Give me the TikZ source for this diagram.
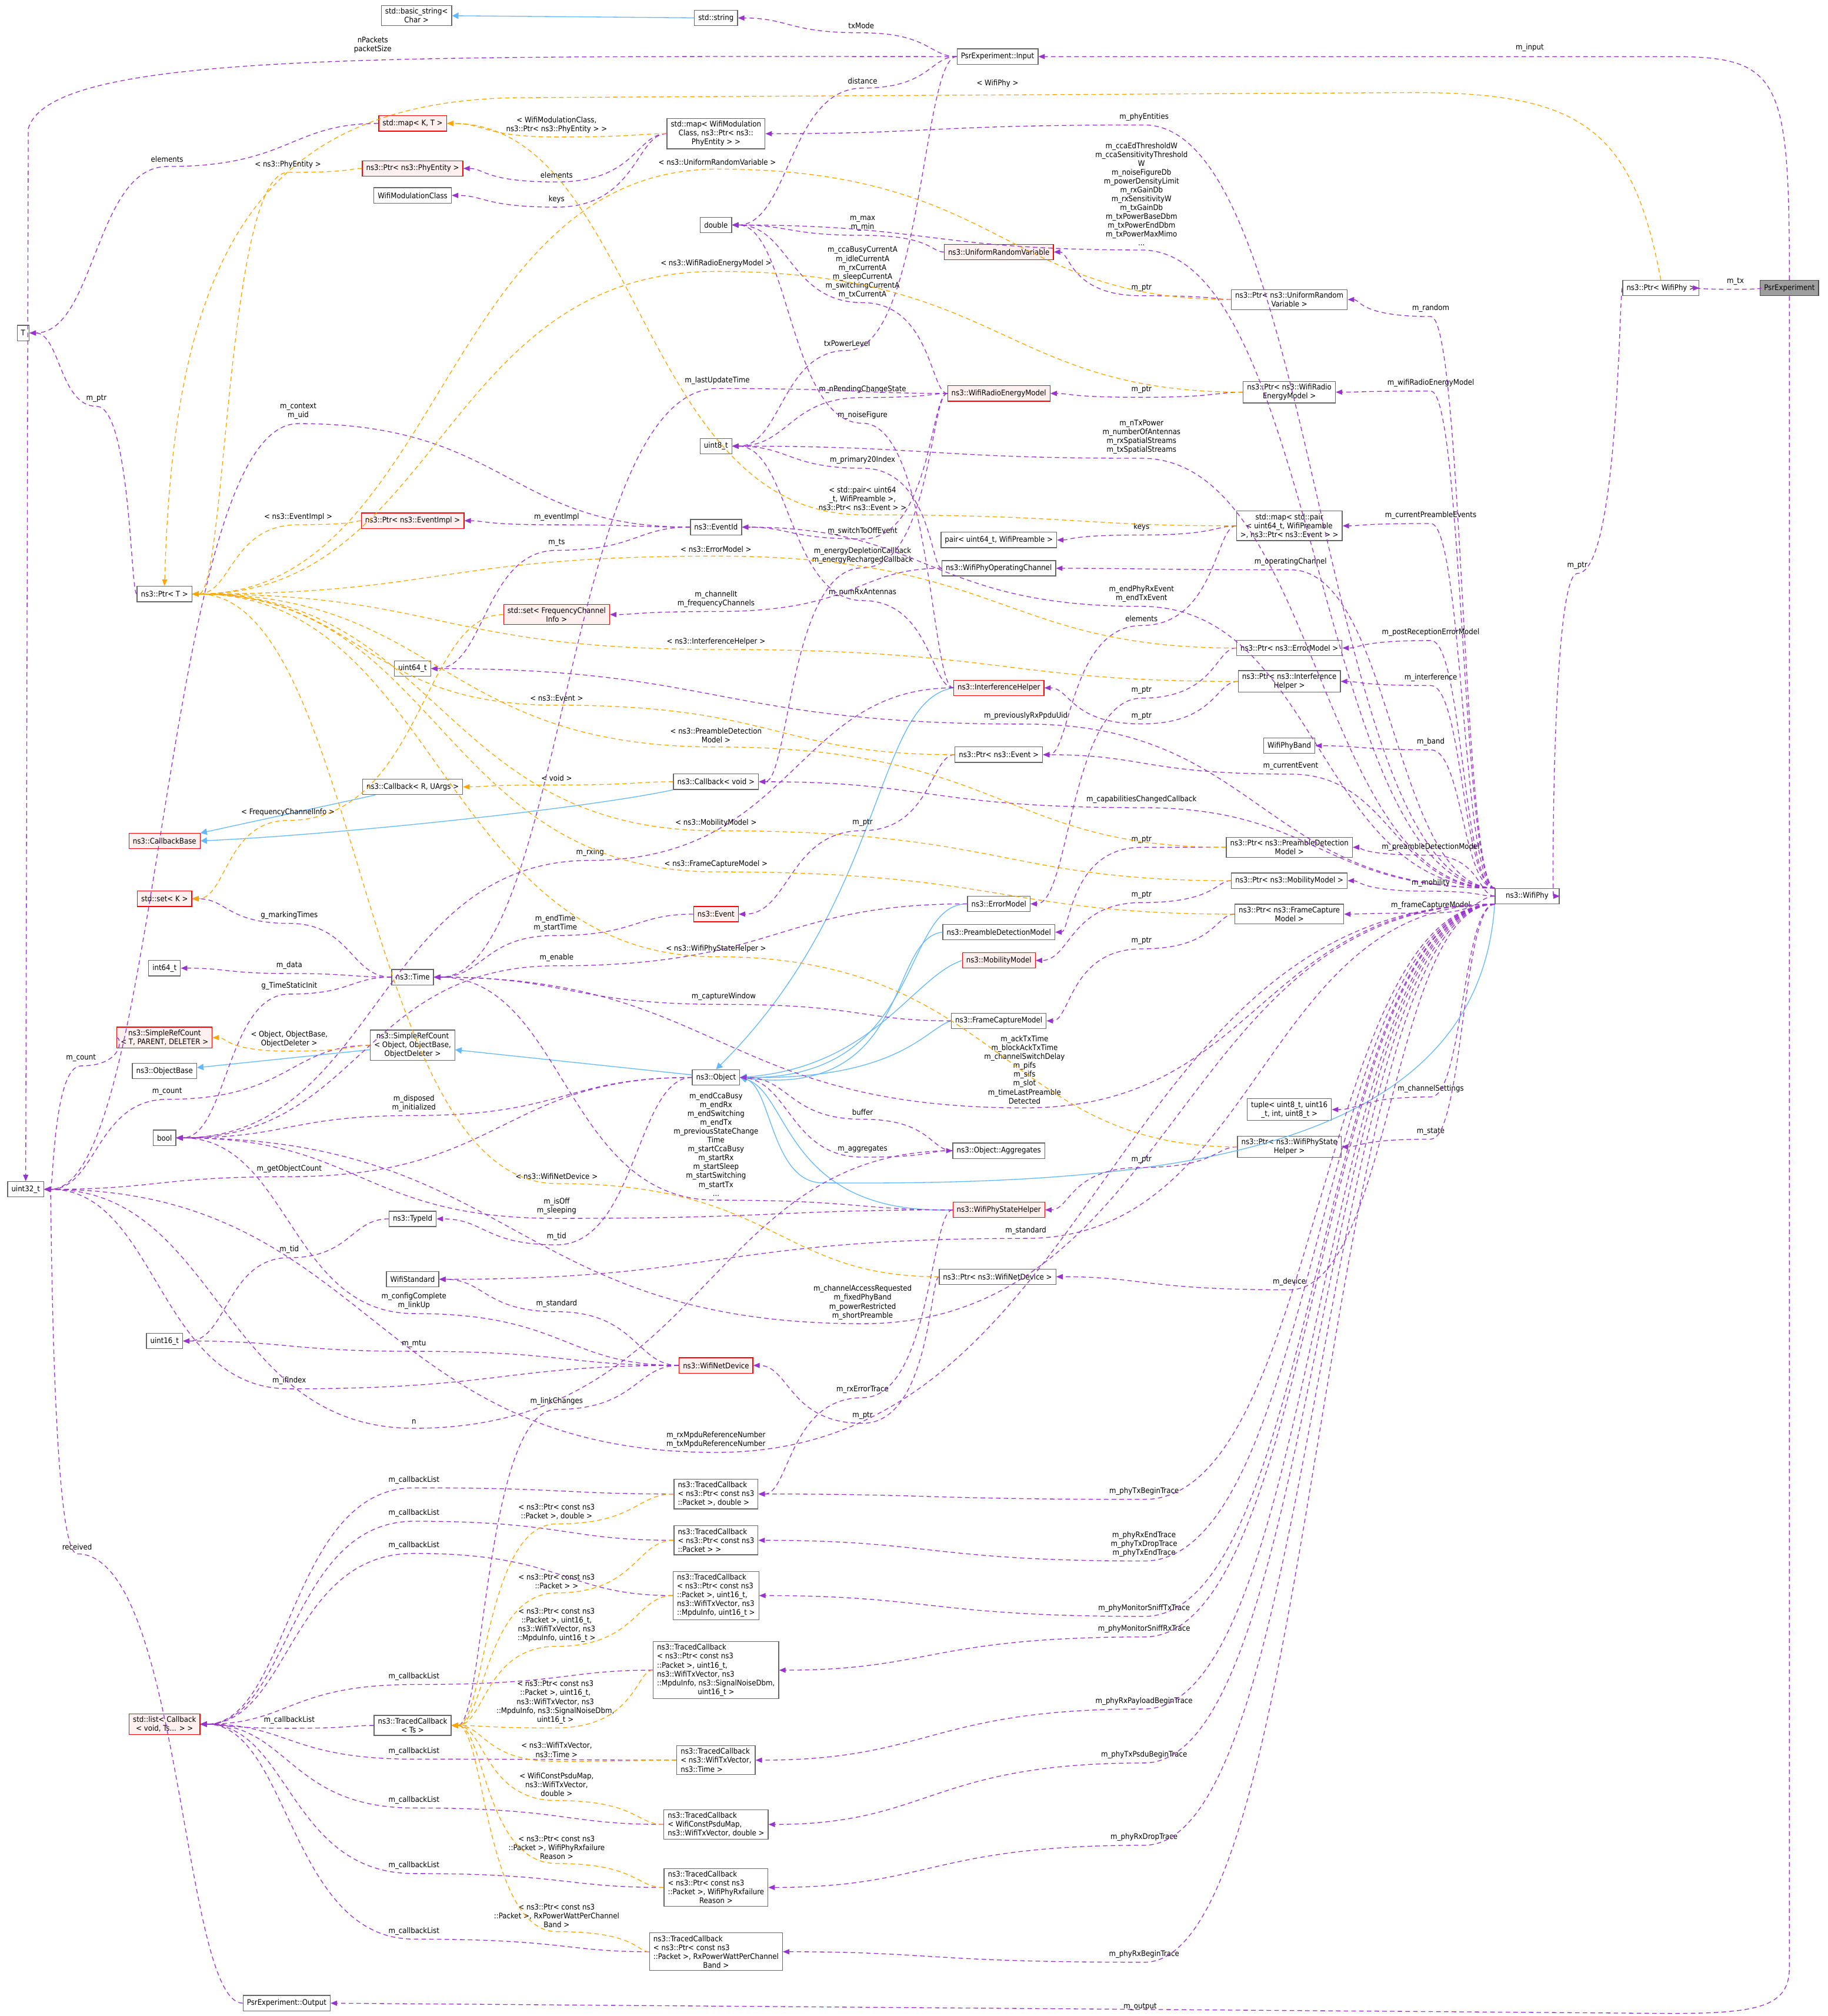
\documentclass[tikz,border=0pt]{standalone}
\usepackage{fontspec}
\setmainfont{DejaVu Sans Condensed}
\usetikzlibrary{arrows.meta,calc}
\definecolor{pc}{HTML}{9A32CD}
\definecolor{oc}{HTML}{FFA500}
\definecolor{bc}{HTML}{63B8FF}
\definecolor{nb}{HTML}{666666}
\newcount\lkc
\newcommand\edg[5][pr]{%
 \global\advance\lkc by 1
 \node[lbl] (L\the\lkc) at (#4) {#5};
 \coordinate (P\the\lkc) at ($(L\the\lkc.south)+(0,2.5)$);
 \coordinate (Ma\the\lkc) at ($(#2)!0.5!(P\the\lkc)$);
 \coordinate (Mb\the\lkc) at ($(P\the\lkc)!0.5!(#3)$);
 \draw[#1] (#2) .. controls (Ma\the\lkc |- #2) and (Ma\the\lkc |- P\the\lkc) .. (P\the\lkc)
   .. controls (Mb\the\lkc |- P\the\lkc) and (Mb\the\lkc |- #3) .. (#3);
}
\begin{document}
\begin{tikzpicture}[x=1pt,y=-1pt,
 font=\fontsize{6}{6.9}\selectfont,
 bx/.style={draw=nb,fill=white,line width=0.6pt,inner xsep=3pt,inner ysep=2pt,minimum height=12pt,align=center},
 rbox/.style={bx,draw=red,fill=red!6},
 gbox/.style={bx,fill=black!38,draw=black!70},
 tbox/.style={bx,align=left},
 lbl/.style={inner sep=0.5pt,align=center},
 pr/.style={draw=pc,line width=0.6pt,dash pattern=on 3.5pt off 2.5pt,-{Triangle[length=5pt,width=4pt]}},
 tm/.style={draw=oc,line width=0.6pt,dash pattern=on 3.5pt off 2.5pt,-{Triangle[length=5pt,width=4pt]}},
 inh/.style={draw=bc,line width=0.6pt,-{Triangle[length=5pt,width=5pt]}}]
\useasboundingbox (0,0) rectangle (1422,1568);
% nodes
\node[bx] (basicstring) at (324,12) {std::basic\_string\textless\\Char \textgreater};
\node[bx] (stdstring) at (557,14) {std::string};
\node[bx] (input) at (776,44) {PsrExperiment::Input};
\node[rbox] (mapKT) at (321,96) {std::map\textless{} K, T \textgreater};
\node[bx] (mapWifi) at (557,104) {std::map\textless{} WifiModulation\\Class, ns3::Ptr\textless{} ns3::\\PhyEntity \textgreater{} \textgreater};
\node[rbox] (ptrPhyEntity) at (321,131) {ns3::Ptr\textless{} ns3::PhyEntity \textgreater};
\node[bx] (wifiModClass) at (321,152) {WifiModulationClass};
\node[bx] (double) at (557,175) {double};
\node[bx] (T) at (18,259) {T};
\node[rbox] (urv) at (777,196) {ns3::UniformRandomVariable};
\node[bx] (ptrURV) at (1003,233) {ns3::Ptr\textless{} ns3::UniformRandom\\Variable \textgreater};
\node[bx] (ptrWifiPhy) at (1292,224) {ns3::Ptr\textless{} WifiPhy \textgreater};
\node[gbox] (psrexp) at (1392,224) {PsrExperiment};
\node[rbox] (wrem) at (777,306) {ns3::WifiRadioEnergyModel};
\node[bx] (ptrWrem) at (1003,305) {ns3::Ptr\textless{} ns3::WifiRadio\\EnergyModel \textgreater};
\node[bx] (uint8) at (557,347) {uint8\_t};
\node[rbox] (ptrEventImpl) at (321,405) {ns3::Ptr\textless{} ns3::EventImpl \textgreater};
\node[bx] (eventid) at (557,410) {ns3::EventId};
\node[bx] (mapPair) at (1003,409) {std::map\textless{} std::pair\\\textless{} uint64\_t, WifiPreamble\\\textgreater, ns3::Ptr\textless{} ns3::Event \textgreater{} \textgreater};
\node[bx] (pairU) at (777,420) {pair\textless{} uint64\_t, WifiPreamble \textgreater};
\node[bx] (opchan) at (777,442) {ns3::WifiPhyOperatingChannel};
\node[bx] (ptrT) at (128,462) {ns3::Ptr\textless{} T \textgreater};
\node[rbox] (setFreq) at (433,478) {std::set\textless{} FrequencyChannel\\Info \textgreater};
\node[bx] (ptrErrorModel) at (1003,504) {ns3::Ptr\textless{} ns3::ErrorModel \textgreater};
\node[bx] (uint64) at (321,520) {uint64\_t};
\node[bx] (ptrIH) at (1003,530) {ns3::Ptr\textless{} ns3::Interference\\Helper \textgreater};
\node[rbox] (ih) at (777,535) {ns3::InterferenceHelper};
\node[bx] (wifiband) at (1003,580) {WifiPhyBand};
\node[bx] (ptrEvent) at (777,587) {ns3::Ptr\textless{} ns3::Event \textgreater};
\node[bx] (callbackRU) at (321,612) {ns3::Callback\textless{} R, UArgs \textgreater};
\node[bx] (callbackVoid) at (557,608) {ns3::Callback\textless{} void \textgreater};
\node[rbox] (callbackBase) at (128,654) {ns3::CallbackBase};
\node[bx] (ptrPDM) at (1003,659) {ns3::Ptr\textless{} ns3::PreambleDetection\\Model \textgreater};
\node[bx] (ptrMM) at (1003,685) {ns3::Ptr\textless{} ns3::MobilityModel \textgreater};
\node[bx,minimum width=50pt] (wifiphy) at (1188,697) {ns3::WifiPhy};
\node[rbox] (setK) at (128,699) {std::set\textless{} K \textgreater};
\node[bx] (errormodel) at (777,703) {ns3::ErrorModel};
\node[bx] (ptrFCM) at (1003,711) {ns3::Ptr\textless{} ns3::FrameCapture\\Model \textgreater};
\node[rbox] (event) at (557,711) {ns3::Event};
\node[bx] (pdm) at (777,725) {ns3::PreambleDetectionModel};
\node[rbox] (mm) at (777,747) {ns3::MobilityModel};
\node[bx] (int64) at (128,753) {int64\_t};
\node[bx] (time) at (321,760) {ns3::Time};
\node[bx] (fcm) at (777,794) {ns3::FrameCaptureModel};
\node[rbox] (srcT) at (128,807) {ns3::SimpleRefCount\\\textless{} T, PARENT, DELETER \textgreater};
\node[bx] (srcObj) at (321,813) {ns3::SimpleRefCount\\\textless{} Object, ObjectBase,\\ObjectDeleter \textgreater};
\node[bx] (objbase) at (128,833) {ns3::ObjectBase};
\node[bx] (object) at (557,838) {ns3::Object};
\node[bx] (bool) at (128,885) {bool};
\node[bx] (tuple) at (1003,863) {tuple\textless{} uint8\_t, uint16\\\_t, int, uint8\_t \textgreater};
\node[bx] (aggregates) at (777,895) {ns3::Object::Aggregates};
\node[bx] (ptrWPSH) at (1003,892) {ns3::Ptr\textless{} ns3::WifiPhyState\\Helper \textgreater};
\node[bx] (uint32) at (20,925) {uint32\_t};
\node[rbox] (wpsh) at (777,941) {ns3::WifiPhyStateHelper};
\node[bx] (typeid) at (321,948) {ns3::TypeId};
\node[bx] (wifistandard) at (321,995) {WifiStandard};
\node[bx] (ptrWND) at (776,993) {ns3::Ptr\textless{} ns3::WifiNetDevice \textgreater};
\node[bx] (uint16) at (128,1043) {uint16\_t};
\node[rbox] (wnd) at (557,1062) {ns3::WifiNetDevice};
\node[tbox] (tc1) at (557,1162) {ns3::TracedCallback\\\textless{} ns3::Ptr\textless{} const ns3\\::Packet \textgreater, double \textgreater};
\node[tbox] (tc2) at (557,1198) {ns3::TracedCallback\\\textless{} ns3::Ptr\textless{} const ns3\\::Packet \textgreater{} \textgreater};
\node[tbox] (tc3) at (557,1241) {ns3::TracedCallback\\\textless{} ns3::Ptr\textless{} const ns3\\::Packet \textgreater, uint16\_t,\\ns3::WifiTxVector, ns3\\::MpduInfo, uint16\_t \textgreater};
\node[tbox] (tc4) at (557,1299) {ns3::TracedCallback\\\textless{} ns3::Ptr\textless{} const ns3\\::Packet \textgreater, uint16\_t,\\ns3::WifiTxVector, ns3\\::MpduInfo, ns3::SignalNoiseDbm,\\\hfill uint16\_t \textgreater\hfill\null};
\node[rbox] (stdlist) at (128,1341) {std::list\textless{} Callback\\\textless{} void, Ts... \textgreater{} \textgreater};
\node[bx] (tcTs) at (321,1342) {ns3::TracedCallback\\\textless{} Ts \textgreater};
\node[tbox] (tc5) at (557,1369) {ns3::TracedCallback\\\textless{} ns3::WifiTxVector,\\ns3::Time \textgreater};
\node[tbox] (tc6) at (557,1419) {ns3::TracedCallback\\\textless{} WifiConstPsduMap,\\ns3::WifiTxVector, double \textgreater};
\node[tbox] (tc7) at (557,1468) {ns3::TracedCallback\\\textless{} ns3::Ptr\textless{} const ns3\\::Packet \textgreater, WifiPhyRxfailure\\\hfill Reason \textgreater\hfill\null};
\node[tbox] (tc8) at (557,1518) {ns3::TracedCallback\\\textless{} ns3::Ptr\textless{} const ns3\\::Packet \textgreater, RxPowerWattPerChannel\\\hfill Band \textgreater\hfill\null};
\node[bx] (output) at (223,1558) {PsrExperiment::Output};
% inheritance
\draw[inh] (stdstring) -- (basicstring);
\draw[inh] (callbackRU) -- (callbackBase);
\draw[inh] (callbackVoid.south west) .. controls (450,630) and (250,650) .. (callbackBase.east);
\draw[inh] (srcObj) -- (objbase);
\draw[inh] (object) -- (srcObj);
\draw[inh] (ih.west) .. controls (680,545) and (690,700) .. (object.north);
\draw[inh] (errormodel.west) .. controls (700,703) and (720,840) .. (object.east);
\draw[inh] (pdm.west) .. controls (690,730) and (710,855) .. (object.east);
\draw[inh] (mm.west) .. controls (710,760) and (680,830) .. (object.east);
\draw[inh] (fcm.west) .. controls (720,800) and (700,840) .. (object.east);
\draw[inh] (wpsh.west) .. controls (610,945) and (615,850) .. (object.east);
\draw[inh] (wifiphy.south west) .. controls (1150,900) and (900,922) .. (640,920) .. controls (600,920) and (600,845) .. (object.east);
% special long edges
\node[lbl] (Lnp) at (290,35) {nPackets\\packetSize};
\draw[pr] (input.west) .. controls (300,44) and (40,40) .. (22,100) -- (uint32.north);
\node[lbl] (Lin) at (1190,37) {m\_input};
\draw[pr] (psrexp.north) .. controls (1392,60) and (1385,44) .. (1300,44) -- (input.east);
\node[lbl] (Lout) at (887,1561) {m\_output};
\draw[pr] (psrexp.south) -- (1392,1530) .. controls (1392,1560) and (1370,1566) .. (1300,1566) -- (output.east);
\node[lbl] (Lwp) at (776,65) {\textless{} WifiPhy \textgreater};
\draw[tm] (ptrWifiPhy.north) .. controls (1270,100) and (1230,72) .. (1100,72) -- (400,76) .. controls (200,80) and (135,200) .. (ptrT.north);
% purple edges
\edg{input}{stdstring}{670,20}{txMode}
\edg{input}{double}{671,63}{distance}
\edg{input}{uint8}{659,267}{txPowerLevel}
\edg{psrexp}{ptrWifiPhy}{1350,219}{m\_tx}
\edg{ptrWifiPhy}{wifiphy}{1227,440}{m\_ptr}
\edg{mapKT}{T}{130,124}{elements}
\edg{mapWifi}{ptrPhyEntity}{433,136}{elements}
\edg{mapWifi}{wifiModClass}{433,155}{keys}
\edg{urv}{double}{671,174}{m\_max\\m\_min}
\edg{ptrURV}{urv}{888,224}{m\_ptr}
\edg{wrem}{double}{671,212}{m\_ccaBusyCurrentA\\m\_idleCurrentA\\m\_rxCurrentA\\m\_sleepCurrentA\\m\_switchingCurrentA\\m\_txCurrentA}
\edg{wrem}{uint8}{671,303}{m\_nPendingChangeState}
\edg{wrem}{time}{558,296}{m\_lastUpdateTime}
\edg{wrem}{callbackVoid}{671,432}{m\_energyDepletionCallback\\m\_energyRechargedCallback}
\edg{wrem}{eventid}{671,413}{m\_switchToOffEvent}
\edg{ptrWrem}{wrem}{888,303}{m\_ptr}
\edg{wifiphy.north west}{mapWifi}{890,91}{m\_phyEntities}
\edg{wifiphy.north west}{double}{888,151}{m\_ccaEdThresholdW\\m\_ccaSensitivityThreshold\\W\\m\_noiseFigureDb\\m\_powerDensityLimit\\m\_rxGainDb\\m\_rxSensitivityW\\m\_txGainDb\\m\_txPowerBaseDbm\\m\_txPowerEndDbm\\m\_txPowerMaxMimo\\...}
\edg{wifiphy.north west}{ptrURV}{1113,240}{m\_random}
\edg{wifiphy.north west}{ptrWrem}{1113,298}{m\_wifiRadioEnergyModel}
\edg{wifiphy.north west}{uint8}{888,340}{m\_nTxPower\\m\_numberOfAntennas\\m\_rxSpatialStreams\\m\_txSpatialStreams}
\edg{wifiphy.north west}{mapPair}{1113,401}{m\_currentPreambleEvents}
\edg{wifiphy.north west}{opchan}{1004,437}{m\_operatingChannel}
\edg{wifiphy.north west}{eventid}{888,462}{m\_endPhyRxEvent\\m\_endTxEvent}
\edg{wifiphy.north west}{ptrErrorModel}{1113,492}{m\_postReceptionErrorModel}
\edg{wifiphy.north west}{ptrIH}{1113,527}{m\_interference}
\edg{wifiphy.north west}{wifiband}{1113,577}{m\_band}
\edg{wifiphy.north west}{ptrEvent}{1004,596}{m\_currentEvent}
\edg{wifiphy.north west}{callbackVoid}{888,622}{m\_capabilitiesChangedCallback}
\edg{wifiphy}{ptrPDM}{1113,659}{m\_preambleDetectionModel}
\edg{wifiphy}{ptrMM}{1113,687}{m\_mobility}
\edg{wifiphy}{ptrFCM}{1113,704}{m\_frameCaptureModel}
\edg{wifiphy.north west}{uint64}{798,557}{m\_previouslyRxPpduUid}
\edg{wifiphy.south west}{time}{797,832}{m\_ackTxTime\\m\_blockAckTxTime\\m\_channelSwitchDelay\\m\_pifs\\m\_sifs\\m\_slot\\m\_timeLastPreamble\\Detected}
\edg{wifiphy.south west}{tuple}{1113,847}{m\_channelSettings}
\edg{wifiphy.south west}{ptrWPSH}{1113,880}{m\_state}
\edg{wifiphy.south west}{ptrWND}{1003,997}{m\_device}
\edg{wifiphy.south west}{wifistandard}{798,957}{m\_standard}
\edg{wifiphy.south west}{bool}{671,1013}{m\_channelAccessRequested\\m\_fixedPhyBand\\m\_powerRestricted\\m\_shortPreamble}
\edg{wifiphy.south west}{uint32}{557,1120}{m\_rxMpduReferenceNumber\\m\_txMpduReferenceNumber}
\edg{wifiphy.south west}{tc1}{890,1160}{m\_phyTxBeginTrace}
\edg{wifiphy.south west}{tc2}{890,1201}{m\_phyRxEndTrace\\m\_phyTxDropTrace\\m\_phyTxEndTrace}
\edg{wifiphy.south west}{tc3}{890,1251}{m\_phyMonitorSniffTxTrace}
\edg{wifiphy.south west}{tc4}{890,1267}{m\_phyMonitorSniffRxTrace}
\edg{wifiphy.south west}{tc5}{890,1323}{m\_phyRxPayloadBeginTrace}
\edg{wifiphy.south west}{tc6}{890,1365}{m\_phyTxPsduBeginTrace}
\edg{wifiphy.south west}{tc7}{890,1429}{m\_phyRxDropTrace}
\edg{wifiphy.south west}{tc8}{890,1520}{m\_phyRxBeginTrace}
\edg{mapPair}{pairU}{888,410}{keys}
\edg{mapPair}{ptrEvent}{888,481}{elements}
\edg{ptrErrorModel}{errormodel}{888,537}{m\_ptr}
\edg{ptrIH}{ih}{888,557}{m\_ptr}
\edg{ptrEvent}{event}{671,640}{m\_ptr}
\edg{ptrPDM}{pdm}{888,653}{m\_ptr}
\edg{ptrMM}{mm}{888,696}{m\_ptr}
\edg{ptrFCM}{fcm}{888,732}{m\_ptr}
\edg{ptrWPSH}{wpsh}{888,902}{m\_ptr}
\edg{ptrWND}{wnd}{671,1101}{m\_ptr}
\edg{ih}{double}{671,323}{m\_noiseFigure}
\edg{opchan}{uint8}{671,358}{m\_primary20Index}
\edg{ih}{uint8}{671,461}{m\_numRxAntennas}
\edg{opchan}{setFreq}{557,466}{m\_channelIt\\m\_frequencyChannels}
\edg{ih}{bool}{459,663}{m\_rxing}
\edg{event}{time}{432,718}{m\_endTime\\m\_startTime}
\edg{time}{int64}{225,751}{m\_data}
\edg{time}{setK}{225,712}{g\_markingTimes}
\edg{time}{bool}{225,767}{g\_TimeStaticInit}
\edg{eventid}{ptrEventImpl}{433,402}{m\_eventImpl}
\edg{eventid}{uint64}{433,422}{m\_ts}
\edg{eventid}{uint32}{232,320}{m\_context\\m\_uid}
\edg{ptrT}{T}{75,310}{m\_ptr}
\edg{srcT}{uint32}{63,823}{m\_count}
\edg{srcObj}{uint32}{130,849}{m\_count}
\edg{object}{bool}{322,858}{m\_disposed\\m\_initialized}
\edg{object}{uint32}{225,909}{m\_getObjectCount}
\edg{object}{typeid}{433,962}{m\_tid}
\edg{typeid}{uint16}{225,972}{m\_tid}
\edg{object}{aggregates}{671,894}{m\_aggregates}
\edg{aggregates}{object}{671,865}{buffer}
\edg{aggregates}{uint32}{322,1106}{n}
\edg{wpsh}{time}{557,890}{m\_endCcaBusy\\m\_endRx\\m\_endSwitching\\m\_endTx\\m\_previousStateChange\\Time\\m\_startCcaBusy\\m\_startRx\\m\_startSleep\\m\_startSwitching\\m\_startTx\\...}
\edg{wpsh}{bool}{433,938}{m\_isOff\\m\_sleeping}
\edg{wpsh}{tc1}{671,1081}{m\_rxErrorTrace}
\edg{errormodel}{bool}{433,745}{m\_enable}
\edg{fcm}{time}{563,775}{m\_captureWindow}
\edg{wnd}{wifistandard}{433,1014}{m\_standard}
\edg{wnd}{bool}{322,1012}{m\_configComplete\\m\_linkUp}
\edg{wnd}{uint16}{322,1045}{m\_mtu}
\edg{wnd}{uint32}{225,1074}{m\_ifIndex}
\edg{wnd}{tcTs}{433,1090}{m\_linkChanges}
\edg{output}{uint32}{60,1203}{received}
\edg{tc1}{stdlist}{322,1151}{m\_callbackList}
\edg{tc2}{stdlist}{322,1177}{m\_callbackList}
\edg{tc3}{stdlist}{322,1202}{m\_callbackList}
\edg{tc4}{stdlist}{322,1304}{m\_callbackList}
\edg{tcTs}{stdlist}{225,1338}{m\_callbackList}
\edg{tc5}{stdlist}{322,1362}{m\_callbackList}
\edg{tc6}{stdlist}{322,1400}{m\_callbackList}
\edg{tc7}{stdlist}{322,1451}{m\_callbackList}
\edg{tc8}{stdlist}{322,1502}{m\_callbackList}
% template instance edges
\edg[tm]{mapWifi}{mapKT}{433,97}{\textless{} WifiModulationClass,\\ns3::Ptr\textless{} ns3::PhyEntity \textgreater{} \textgreater}
\edg[tm]{ptrPhyEntity}{ptrT}{224,128}{\textless{} ns3::PhyEntity \textgreater}
\edg[tm]{ptrURV}{ptrT}{558,126}{\textless{} ns3::UniformRandomVariable \textgreater}
\edg[tm]{ptrWrem}{ptrT}{557,205}{\textless{} ns3::WifiRadioEnergyModel \textgreater}
\edg[tm]{ptrEventImpl}{ptrT}{232,402}{\textless{} ns3::EventImpl \textgreater}
\edg[tm]{mapPair}{mapKT}{671,388}{\textless{} std::pair\textless{} uint64\\\_t, WifiPreamble \textgreater,\\ns3::Ptr\textless{} ns3::Event \textgreater{} \textgreater}
\edg[tm]{ptrErrorModel}{ptrT}{557,427}{\textless{} ns3::ErrorModel \textgreater}
\edg[tm]{ptrIH}{ptrT}{557,499}{\textless{} ns3::InterferenceHelper \textgreater}
\edg[tm]{ptrEvent}{ptrT}{433,543}{\textless{} ns3::Event \textgreater}
\edg[tm]{ptrPDM}{ptrT}{557,572}{\textless{} ns3::PreambleDetection\\Model \textgreater}
\edg[tm]{ptrMM}{ptrT}{557,640}{\textless{} ns3::MobilityModel \textgreater}
\edg[tm]{ptrFCM}{ptrT}{557,672}{\textless{} ns3::FrameCaptureModel \textgreater}
\edg[tm]{ptrWPSH}{ptrT}{557,738}{\textless{} ns3::WifiPhyStateHelper \textgreater}
\edg[tm]{ptrWND}{ptrT}{433,915}{\textless{} ns3::WifiNetDevice \textgreater}
\edg[tm]{setFreq}{setK}{224,632}{\textless{} FrequencyChannelInfo \textgreater}
\edg[tm]{callbackVoid}{callbackRU}{433,605}{\textless{} void \textgreater}
\edg[tm]{srcObj}{srcT}{225,808}{\textless{} Object, ObjectBase,\\ObjectDeleter \textgreater}
\edg[tm]{tc1}{tcTs}{433,1176}{\textless{} ns3::Ptr\textless{} const ns3\\::Packet \textgreater, double \textgreater}
\edg[tm]{tc2}{tcTs}{433,1230}{\textless{} ns3::Ptr\textless{} const ns3\\::Packet \textgreater{} \textgreater}
\edg[tm]{tc3}{tcTs}{433,1264}{\textless{} ns3::Ptr\textless{} const ns3\\::Packet \textgreater, uint16\_t,\\ns3::WifiTxVector, ns3\\::MpduInfo, uint16\_t \textgreater}
\edg[tm]{tc4}{tcTs}{432,1324}{\textless{} ns3::Ptr\textless{} const ns3\\::Packet \textgreater, uint16\_t,\\ns3::WifiTxVector, ns3\\::MpduInfo, ns3::SignalNoiseDbm,\\uint16\_t \textgreater}
\edg[tm]{tc5}{tcTs}{433,1361}{\textless{} ns3::WifiTxVector,\\ns3::Time \textgreater}
\edg[tm]{tc6}{tcTs}{433,1388}{\textless{} WifiConstPsduMap,\\ns3::WifiTxVector,\\double \textgreater}
\edg[tm]{tc7}{tcTs}{433,1437}{\textless{} ns3::Ptr\textless{} const ns3\\::Packet \textgreater, WifiPhyRxfailure\\Reason \textgreater}
\edg[tm]{tc8}{tcTs}{433,1490}{\textless{} ns3::Ptr\textless{} const ns3\\::Packet \textgreater, RxPowerWattPerChannel\\Band \textgreater}
\end{tikzpicture}
\end{document}
